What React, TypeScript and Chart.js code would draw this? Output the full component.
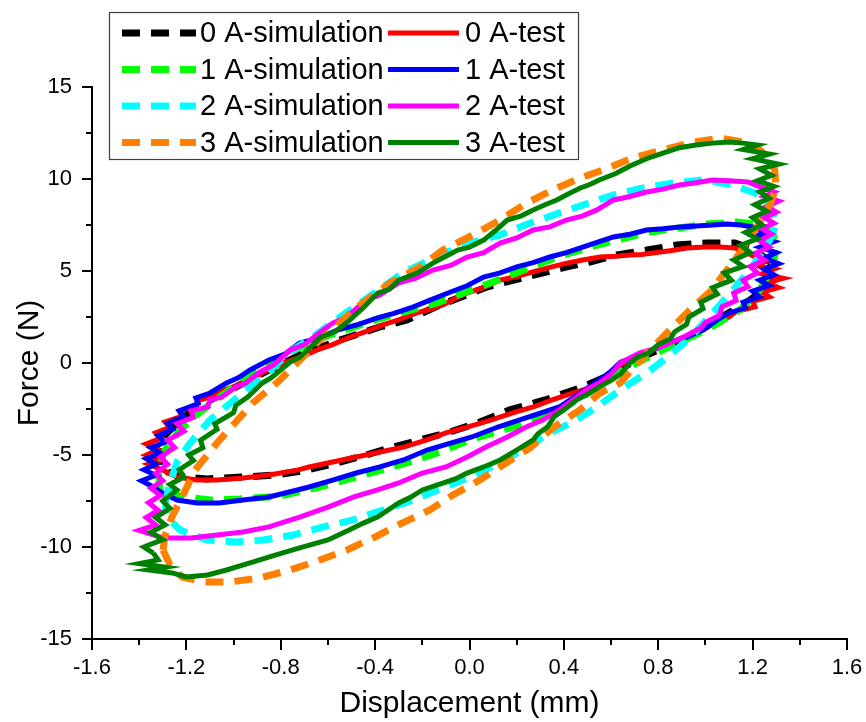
import React, { useEffect, useRef } from "react";
import { Chart, registerables } from "chart.js";

Chart.register(...registerables);

type P = [number, number];

const FONT = '"Liberation Sans", Arial, Helvetica, sans-serif';

const seriesLabels = [
  "0 A-simulation", "0 A-test",
  "1 A-simulation", "1 A-test",
  "2 A-simulation", "2 A-test",
  "3 A-simulation", "3 A-test",
];
const seriesColors = [
  "#000000", "#ff0000",
  "#00ff00", "#0000ff",
  "#00ffff", "#ff00ff",
  "#ff8000", "#008000",
];

const xMajorTicks = [-1.6, -1.2, -0.8, -0.4, 0.0, 0.4, 0.8, 1.2, 1.6];
const xMinorTicks = [-1.4, -1.0, -0.6, -0.2, 0.2, 0.6, 1.0, 1.4];
const yMajorTicks = [-15, -10, -5, 0, 5, 10, 15];
const yMinorTicks = [-12.5, -7.5, -2.5, 2.5, 7.5, 12.5];

// 0 A simulation (black dashed)
const sim0A: P[] = [
  [-1.312, -5.54], [-1.32, -4.73], [-1.29, -3.91], [-1.227, -3.1], [-1.142, -2.28], [-1.015, -1.47],
  [-0.867, -0.49], [-0.719, 0.43], [-0.549, 1.25], [-0.38, 1.96], [-0.265, 2.34], [-0.125, 3.15],
  [0.074, 4.13], [0.256, 4.73], [0.413, 5.22], [0.51, 5.49], [0.625, 5.87], [0.752, 6.14],
  [0.879, 6.41], [1.006, 6.52], [1.125, 6.52], [1.21, 6.14], [1.273, 5.49], [1.303, 4.89],
  [1.273, 4.24], [1.189, 3.42], [1.083, 2.61], [0.976, 1.79], [0.849, 0.98], [0.722, 0.27],
  [0.595, -0.65], [0.468, -1.36], [0.32, -2.01], [0.171, -2.55], [0.044, -3.21], [-0.083, -3.75],
  [-0.21, -4.18], [-0.337, -4.62], [-0.452, -5.05], [-0.579, -5.49], [-0.689, -5.82], [-0.825, -6.09],
  [-0.96, -6.2], [-1.112, -6.3], [-1.206, -6.2], [-1.278, -5.93], [-1.312, -5.54],
];

// 0 A test (red)
const test0A: P[] = [
  [-1.30, -5.82], [-1.36, -5.5], [-1.31, -5.3], [-1.37, -5.0], [-1.32, -4.7], [-1.37, -4.4], [-1.31, -4.1],
  [-1.33, -3.8], [-1.27, -3.5], [-1.29, -3.2], [-1.22, -2.9], [-1.23, -2.6], [-1.16, -2.35], [-1.15, -2.05],
  [-1.09, -1.8], [-1.04, -1.47], [-0.98, -1.2], [-0.93, -0.92], [-0.86, -0.4], [-0.79, 0.0], [-0.72, 0.3],
  [-0.646, 0.71], [-0.58, 1.0], [-0.507, 1.41], [-0.44, 1.7], [-0.367, 2.07], [-0.3, 2.35], [-0.223, 2.72],
  [-0.17, 2.9], [-0.113, 3.15], [-0.06, 3.5], [-0.011, 3.8], [0.06, 4.1], [0.129, 4.51], [0.2, 4.7],
  [0.269, 4.95], [0.34, 5.2], [0.413, 5.43], [0.48, 5.6], [0.553, 5.76], [0.62, 5.8], [0.68, 5.87],
  [0.73, 5.9], [0.777, 5.98], [0.85, 6.1], [0.922, 6.25], [1.0, 6.3], [1.061, 6.3], [1.125, 6.25],
  [1.19, 5.9], [1.25, 5.5], [1.21, 5.3], [1.29, 5.1], [1.24, 4.85], [1.33, 4.6], [1.26, 4.35], [1.31, 4.1],
  [1.24, 3.85], [1.27, 3.6], [1.2, 3.35], [1.21, 3.05], [1.13, 2.8], [1.1, 2.5], [1.06, 2.34], [0.99, 1.79],
  [0.92, 1.41], [0.85, 1.09], [0.78, 0.71], [0.69, 0.33], [0.64, -0.11], [0.6, -0.7], [0.55, -1.2],
  [0.44, -1.63], [0.35, -2.01], [0.27, -2.39], [0.18, -2.72], [0.09, -3.1], [-0.01, -3.48], [-0.1, -3.8],
  [-0.18, -4.18], [-0.28, -4.57], [-0.38, -4.84], [-0.48, -5.11], [-0.58, -5.38], [-0.68, -5.65],
  [-0.73, -5.82], [-0.85, -6.09], [-0.96, -6.25], [-1.07, -6.36], [-1.155, -6.36], [-1.24, -6.2], [-1.30, -5.82],
];

// 1 A simulation (green dashed)
const sim1A: P[] = [
  [-1.312, -6.9], [-1.32, -5.82], [-1.29, -4.73], [-1.227, -3.64], [-1.142, -2.66], [-1.036, -1.63],
  [-0.909, -0.49], [-0.761, 0.6], [-0.592, 1.52], [-0.401, 2.34], [-0.138, 3.26], [0.099, 4.4],
  [0.371, 5.76], [0.54, 6.41], [0.765, 7.12], [1.006, 7.55], [1.133, 7.66], [1.231, 7.5],
  [1.286, 7.07], [1.299, 6.14], [1.282, 5.16], [1.231, 3.97], [1.146, 2.88], [1.019, 1.9],
  [0.892, 1.14], [0.765, 0.38], [0.637, -0.49], [0.51, -1.58], [0.383, -2.55], [0.214, -3.37],
  [0.002, -4.18], [-0.125, -4.84], [-0.253, -5.38], [-0.422, -5.98], [-0.634, -6.74], [-0.804, -7.23],
  [-0.973, -7.39], [-1.1, -7.45], [-1.206, -7.28], [-1.278, -7.07], [-1.312, -6.9],
];

// 1 A test (blue)
const test1A: P[] = [
  [-1.34, -6.74], [-1.39, -6.4], [-1.33, -6.1], [-1.38, -5.8], [-1.33, -5.5], [-1.37, -5.2], [-1.31, -4.9],
  [-1.35, -4.6], [-1.29, -4.3], [-1.32, -3.95], [-1.26, -3.6], [-1.28, -3.3], [-1.21, -2.9], [-1.23, -2.6],
  [-1.15, -2.2], [-1.16, -1.9], [-1.1, -1.63], [-1.03, -1.09], [-0.98, -0.8], [-0.93, -0.38], [-0.85, 0.16],
  [-0.78, 0.5], [-0.72, 1.09], [-0.64, 1.35], [-0.56, 1.79], [-0.47, 2.1], [-0.39, 2.45], [-0.32, 2.7],
  [-0.25, 2.99], [-0.17, 3.4], [-0.08, 3.86], [-0.01, 4.2], [0.06, 4.67], [0.13, 4.9], [0.2, 5.22],
  [0.27, 5.45], [0.34, 5.76], [0.41, 6.0], [0.48, 6.3], [0.54, 6.55], [0.61, 6.85], [0.68, 7.0],
  [0.75, 7.23], [0.82, 7.3], [0.89, 7.39], [0.96, 7.45], [1.03, 7.5], [1.09, 7.55], [1.15, 7.5],
  [1.2, 7.39], [1.26, 7.1], [1.21, 6.9], [1.29, 6.6], [1.23, 6.3], [1.30, 6.0], [1.25, 5.7], [1.31, 5.4],
  [1.25, 5.1], [1.29, 4.8], [1.23, 4.5], [1.27, 4.2], [1.20, 3.9], [1.23, 3.6], [1.16, 3.3], [1.17, 3.0],
  [1.10, 2.72], [1.05, 2.34], [0.99, 1.79], [0.92, 1.41], [0.84, 1.09], [0.75, 0.54], [0.64, 0.05],
  [0.6, -0.45], [0.55, -0.92], [0.47, -1.63], [0.38, -2.39], [0.3, -2.72], [0.21, -3.1], [0.12, -3.48],
  [0.01, -4.02], [-0.08, -4.35], [-0.18, -4.73], [-0.28, -5.27], [-0.38, -5.65], [-0.48, -5.98],
  [-0.58, -6.36], [-0.68, -6.74], [-0.73, -6.9], [-0.85, -7.28], [-0.96, -7.45], [-1.06, -7.61],
  [-1.155, -7.61], [-1.24, -7.45], [-1.30, -7.07], [-1.34, -6.74],
];

// 2 A simulation (cyan dashed)
const sim2A: P[] = [
  [-1.29, -7.72], [-1.278, -6.9], [-1.24, -5.38], [-1.184, -4.35], [-1.1, -3.1], [-0.972, -1.74],
  [-0.867, -0.65], [-0.761, 0.6], [-0.664, 1.41], [-0.549, 2.5], [-0.464, 3.26], [-0.282, 4.89],
  [-0.125, 5.87], [0.002, 6.52], [0.129, 6.96], [0.269, 7.66], [0.481, 8.59], [0.608, 9.13],
  [0.735, 9.51], [0.862, 9.78], [0.989, 9.95], [1.116, 9.67], [1.21, 9.24], [1.273, 8.59],
  [1.303, 7.61], [1.273, 6.68], [1.189, 5.05], [1.061, 3.15], [0.934, 1.36], [0.849, 0.43],
  [0.752, -0.54], [0.65, -1.36], [0.54, -2.39], [0.438, -3.21], [0.341, -3.8], [0.243, -4.57],
  [0.129, -5.43], [0.002, -6.2], [-0.113, -6.79], [-0.24, -7.45], [-0.367, -7.99], [-0.494, -8.53],
  [-0.62, -8.91], [-0.748, -9.35], [-0.875, -9.62], [-0.985, -9.73], [-1.112, -9.62], [-1.227, -9.08],
  [-1.278, -8.42], [-1.29, -7.72],
];

// 2 A test (magenta)
const test2A: P[] = [
  [-1.31, -9.46], [-1.40, -9.1], [-1.33, -8.8], [-1.37, -8.4], [-1.32, -8.0], [-1.36, -7.6], [-1.31, -7.2],
  [-1.35, -6.8], [-1.30, -6.4], [-1.33, -6.0], [-1.28, -5.5], [-1.31, -5.1], [-1.25, -4.6], [-1.28, -4.2],
  [-1.21, -3.7], [-1.24, -3.3], [-1.17, -2.95], [-1.18, -2.6], [-1.11, -2.4], [-1.10, -2.0], [-1.05, -1.85],
  [-0.99, -1.3], [-0.95, -1.1], [-0.89, -0.5], [-0.83, -0.1], [-0.76, 0.7], [-0.7, 1.0], [-0.64, 1.6],
  [-0.58, 2.17], [-0.52, 2.5], [-0.44, 3.42], [-0.38, 3.7], [-0.3, 4.35], [-0.23, 4.6], [-0.155, 5.05],
  [-0.08, 5.3], [-0.01, 5.76], [0.06, 6.0], [0.13, 6.52], [0.2, 6.8], [0.27, 7.23], [0.34, 7.4],
  [0.41, 7.77], [0.48, 8.0], [0.54, 8.32], [0.61, 8.86], [0.68, 9.05], [0.75, 9.29], [0.82, 9.45],
  [0.89, 9.67], [0.96, 9.8], [1.03, 9.95], [1.1, 9.9], [1.18, 9.84], [1.23, 9.57], [1.29, 9.3],
  [1.25, 9.05], [1.31, 8.8], [1.26, 8.5], [1.30, 8.2], [1.25, 7.9], [1.29, 7.6], [1.24, 7.3], [1.28, 7.0],
  [1.23, 6.65], [1.27, 6.3], [1.21, 5.95], [1.25, 5.6], [1.19, 5.25], [1.22, 4.9], [1.16, 4.5], [1.18, 4.15],
  [1.12, 3.8], [1.13, 3.4], [1.07, 3.05], [1.06, 2.6], [1.0, 2.2], [0.98, 1.9], [0.92, 1.5], [0.88, 1.25],
  [0.81, 0.87], [0.72, 0.54], [0.64, 0.0], [0.6, -0.6], [0.55, -1.09], [0.5, -1.4], [0.455, -1.85],
  [0.38, -2.55], [0.31, -3.1], [0.24, -3.48], [0.16, -4.02], [0.07, -4.57], [-0.01, -5.11], [-0.1, -5.65],
  [-0.2, -5.98], [-0.3, -6.52], [-0.39, -6.9], [-0.49, -7.28], [-0.6, -7.83], [-0.72, -8.37], [-0.85, -8.91],
  [-0.96, -9.18], [-1.07, -9.35], [-1.18, -9.51], [-1.27, -9.51], [-1.31, -9.46],
];

// 3 A simulation (orange dashed)
const sim3A: P[] = [
  [-1.299, -10.16], [-1.29, -9.35], [-1.261, -8.37], [-1.214, -7.17], [-1.163, -5.82], [-1.07, -4.35],
  [-0.994, -3.26], [-0.918, -2.17], [-0.812, -1.03], [-0.634, 1.25], [-0.464, 3.15], [-0.337, 4.35],
  [-0.21, 5.22], [-0.113, 6.14], [0.014, 6.96], [0.129, 7.77], [0.243, 8.7], [0.353, 9.4],
  [0.468, 10.05], [0.565, 10.49], [0.693, 11.14], [0.82, 11.58], [0.934, 11.96], [1.061, 12.23],
  [1.159, 12.01], [1.231, 11.58], [1.26, 11.2], [1.294, 10.49], [1.299, 9.51], [1.273, 8.59],
  [1.21, 7.23], [1.125, 5.6], [1.019, 3.86], [0.934, 2.88], [0.849, 1.79], [0.744, 0.43],
  [0.637, -1.09], [0.553, -1.63], [0.468, -2.55], [0.353, -3.53], [0.256, -4.62], [0.142, -5.54],
  [0.044, -6.36], [-0.07, -7.17], [-0.168, -7.99], [-0.286, -8.7], [-0.401, -9.46], [-0.519, -10.16],
  [-0.634, -10.71], [-0.761, -11.25], [-0.888, -11.68], [-1.015, -11.9], [-1.129, -11.9], [-1.218, -11.63],
  [-1.269, -10.98], [-1.299, -10.16],
];

// 3 A test (dark green)
const test3A: P[] = [
  [-1.34, -10.33], [-1.38, -10.0], [-1.30, -9.6], [-1.35, -9.2], [-1.29, -8.8], [-1.33, -8.4], [-1.27, -7.9],
  [-1.30, -7.5], [-1.24, -6.9], [-1.27, -6.6], [-1.21, -6.2], [-1.23, -5.8], [-1.17, -5.3], [-1.19, -5.0],
  [-1.13, -4.6], [-1.14, -4.2], [-1.07, -3.6], [-1.08, -3.3], [-1.0, -2.7], [-0.99, -2.3], [-0.94, -1.85],
  [-0.88, -1.1], [-0.84, -0.8], [-0.76, 0.05], [-0.72, 0.3], [-0.63, 1.4], [-0.57, 1.7], [-0.51, 2.3],
  [-0.45, 3.0], [-0.39, 3.8], [-0.34, 4.0], [-0.30, 4.5], [-0.22, 4.9], [-0.155, 5.43], [-0.1, 5.8],
  [-0.05, 6.14], [0.0, 6.3], [0.06, 6.68], [0.11, 7.2], [0.16, 7.77], [0.22, 8.0], [0.27, 8.32],
  [0.32, 8.6], [0.37, 8.86], [0.42, 9.2], [0.47, 9.51], [0.51, 9.7], [0.55, 9.95], [0.62, 10.3],
  [0.68, 10.71], [0.75, 11.1], [0.82, 11.41], [0.89, 11.7], [0.96, 11.85], [1.03, 11.95], [1.10, 12.01],
  [1.16, 11.95], [1.22, 11.85], [1.16, 11.6], [1.27, 11.35], [1.20, 11.1], [1.31, 10.8], [1.23, 10.55],
  [1.28, 10.2], [1.22, 9.9], [1.29, 9.6], [1.23, 9.3], [1.27, 8.95], [1.21, 8.6], [1.26, 8.25], [1.20, 7.9],
  [1.24, 7.5], [1.17, 7.1], [1.22, 6.75], [1.15, 6.4], [1.19, 6.0], [1.12, 5.6], [1.16, 5.25], [1.08, 4.9],
  [1.11, 4.5], [1.03, 4.1], [1.05, 3.75], [0.98, 3.3], [0.99, 2.95], [0.93, 2.5], [0.92, 2.1], [0.87, 1.7],
  [0.85, 1.3], [0.80, 1.0], [0.76, 0.55], [0.71, 0.3], [0.68, 0.0], [0.64, -0.6], [0.6, -0.95], [0.55, -1.3],
  [0.5, -1.7], [0.455, -2.0], [0.4, -2.55], [0.36, -2.9], [0.33, -3.48], [0.29, -3.85], [0.27, -4.18],
  [0.2, -4.73], [0.13, -5.27], [0.06, -5.65], [-0.01, -5.98], [-0.06, -6.3], [-0.11, -6.52], [-0.2, -6.9],
  [-0.25, -7.3], [-0.3, -7.61], [-0.39, -8.37], [-0.45, -8.7], [-0.51, -9.08], [-0.6, -9.62], [-0.72, -10.05],
  [-0.82, -10.43], [-0.92, -10.82], [-1.03, -11.25], [-1.11, -11.52], [-1.2, -11.63], [-1.26, -11.41],
  [-1.36, -11.25], [-1.29, -11.1], [-1.40, -10.9], [-1.32, -10.7], [-1.34, -10.33],
];

const seriesData: P[][] = [sim0A, test0A, sim1A, test1A, sim2A, test2A, sim3A, test3A];

const SIM_DASH = [18, 11];
const SIM_WIDTH = 7;
const TEST_WIDTH = 5;

const axisTicksPlugin = {
  id: "axisTicks",
  afterDraw(chart: any) {
    const { ctx, scales, chartArea } = chart;
    const xs = scales.x;
    const ys = scales.y;
    ctx.save();
    ctx.strokeStyle = "#000";
    ctx.lineWidth = 2;
    ctx.lineCap = "butt";
    const drawX = (v: number, len: number) => {
      const px = Math.round(xs.getPixelForValue(v));
      ctx.beginPath();
      ctx.moveTo(px, chartArea.bottom);
      ctx.lineTo(px, chartArea.bottom + len);
      ctx.stroke();
    };
    const drawY = (v: number, len: number) => {
      const py = Math.round(ys.getPixelForValue(v));
      ctx.beginPath();
      ctx.moveTo(chartArea.left, py);
      ctx.lineTo(chartArea.left - len, py);
      ctx.stroke();
    };
    xMajorTicks.forEach((v) => drawX(v, 11));
    xMinorTicks.forEach((v) => drawX(v, 6));
    yMajorTicks.forEach((v) => drawY(v, 10));
    yMinorTicks.forEach((v) => drawY(v, 6));
    ctx.restore();
  },
};

const boxLegendPlugin = {
  id: "boxLegend",
  afterDraw(chart: any) {
    const { ctx } = chart;
    const box = { left: 109.5, top: 12.5, width: 469, height: 147 };
    const rowY = [33, 69.5, 106, 142.5];
    ctx.save();
    ctx.fillStyle = "#ffffff";
    ctx.fillRect(box.left, box.top, box.width, box.height);
    ctx.strokeStyle = "#404040";
    ctx.lineWidth = 1.2;
    ctx.strokeRect(box.left, box.top, box.width, box.height);
    ctx.font = `29px ${FONT}`;
    ctx.textBaseline = "middle";
    ctx.textAlign = "left";
    for (let r = 0; r < 4; r++) {
      const y = rowY[r];
      const simIdx = r * 2;
      const testIdx = r * 2 + 1;
      ctx.beginPath();
      ctx.setLineDash(SIM_DASH.map((d) => d));
      ctx.lineDashOffset = 0;
      ctx.strokeStyle = seriesColors[simIdx];
      ctx.lineWidth = SIM_WIDTH;
      ctx.moveTo(122, y);
      ctx.lineTo(196, y);
      ctx.stroke();
      ctx.setLineDash([]);
      ctx.fillStyle = "#000";
      ctx.fillText(seriesLabels[simIdx], 200, y + 1);
      ctx.beginPath();
      ctx.strokeStyle = seriesColors[testIdx];
      ctx.lineWidth = TEST_WIDTH;
      ctx.moveTo(388, y);
      ctx.lineTo(459, y);
      ctx.stroke();
      ctx.fillStyle = "#000";
      ctx.fillText(seriesLabels[testIdx], 465, y + 1);
    }
    ctx.restore();
  },
};

export default function App() {
  const canvasRef = useRef<HTMLCanvasElement | null>(null);

  useEffect(() => {
    const canvas = canvasRef.current;
    if (!canvas) return;
    const datasets = seriesData.map((pts, i) => {
      const isSim = i % 2 === 0;
      return {
        label: seriesLabels[i],
        data: pts.map(([x, y]) => ({ x, y })),
        showLine: true,
        borderColor: seriesColors[i],
        backgroundColor: seriesColors[i],
        borderWidth: isSim ? SIM_WIDTH : TEST_WIDTH,
        borderDash: isSim ? SIM_DASH : [],
        borderCapStyle: "butt",
        borderJoinStyle: "miter",
        pointRadius: 0,
        pointHoverRadius: 0,
        fill: false,
        tension: 0,
        order: 7 - i,
      };
    });

    const chart = new Chart(canvas, {
      type: "scatter",
      data: { datasets } as any,
      options: {
        animation: false,
        responsive: false,
        devicePixelRatio: 1,
        layout: { padding: { left: 0, top: 87, right: 19, bottom: 0 } },
        plugins: {
          legend: { display: false },
          tooltip: { enabled: false },
        },
        scales: {
          x: {
            type: "linear",
            position: "bottom",
            min: -1.6,
            max: 1.6,
            afterBuildTicks: (s: any) => {
              s.ticks = xMajorTicks.map((v) => ({ value: v }));
            },
            afterFit: (s: any) => {
              s.height = 83;
              s.paddingLeft = 0;
              s.paddingRight = 0;
            },
            grid: { display: false, drawTicks: false },
            border: { display: true, color: "#000", width: 2 },
            ticks: {
              padding: 16,
              color: "#000",
              maxRotation: 0,
              autoSkip: false,
              font: { family: FONT, size: 22 },
              callback: (v: any) => Number(v).toFixed(1),
            },
            title: {
              display: true,
              text: "Displacement (mm)",
              color: "#000",
              font: { family: FONT, size: 30 },
              padding: { top: 0, bottom: 0 },
            },
          },
          y: {
            type: "linear",
            position: "left",
            min: -15,
            max: 15,
            afterBuildTicks: (s: any) => {
              s.ticks = yMajorTicks.map((v) => ({ value: v }));
            },
            afterFit: (s: any) => {
              s.width = 92;
              s.paddingTop = 0;
              s.paddingBottom = 0;
            },
            grid: { display: false, drawTicks: false },
            border: { display: true, color: "#000", width: 2 },
            ticks: {
              padding: 20,
              color: "#000",
              autoSkip: false,
              font: { family: FONT, size: 22 },
              callback: (v: any) => String(v),
            },
            title: {
              display: true,
              text: "Force (N)",
              color: "#000",
              font: { family: FONT, size: 30 },
              padding: { top: 12, bottom: 0 },
            },
          },
        },
      } as any,
      plugins: [axisTicksPlugin, boxLegendPlugin],
    });

    return () => {
      chart.destroy();
    };
  }, []);

  return (
    <div style={{ position: "absolute", left: 0, top: 0, width: 866, height: 722, background: "#fff" }}>
      <canvas ref={canvasRef} width={866} height={722} style={{ display: "block" }} />
    </div>
  );
}
